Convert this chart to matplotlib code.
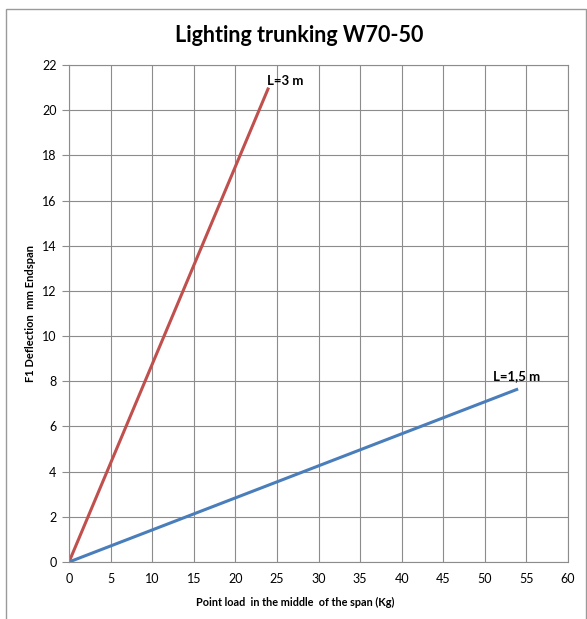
import matplotlib
matplotlib.use("Agg")
import matplotlib.pyplot as plt
from matplotlib.patches import Rectangle

plt.rcParams['font.family'] = ['Lato', 'DejaVu Sans']

# Data
load_3m = [0, 24]
defl_3m = [0, 21]
load_15m = [0, 54]
defl_15m = [0, 7.66]
label_3m = "L=3 m"
label_15m = "L=1,5 m"
x_ticks = list(range(0, 61, 5))
y_ticks = list(range(0, 23, 2))

W, H = 587, 619
fig = plt.figure(figsize=(W / 100, H / 100), dpi=100)
fig.patch.set_facecolor('white')

# outer chart frame
fig.patches.append(Rectangle((6 / W, -0.01), (586 - 6) / W, 1 - 9 / H + 0.01,
                             transform=fig.transFigure, fill=False,
                             edgecolor='#9a9a9a', linewidth=1.0))

left, right, top, bottom = 69, 568, 65, 562
ax = fig.add_axes([left / W, 1 - bottom / H, (right - left) / W, (bottom - top) / H])

ax.plot(load_3m, defl_3m, color='#c0504d', linewidth=2.2, solid_capstyle='butt')
ax.plot(load_15m, defl_15m, color='#4a7ebb', linewidth=2.2, solid_capstyle='butt')

ax.text(23.8, 21.3, label_3m, fontsize=9.5, fontweight='bold', ha='left', va='center')
ax.text(51.0, 8.25, label_15m, fontsize=9.5, fontweight='bold', ha='left', va='center')

ax.set_xlim(0, 60)
ax.set_ylim(0, 22)
ax.set_xticks(x_ticks)
ax.set_yticks(y_ticks)
ax.grid(True, color='#8c8c8c', linewidth=0.8)
ax.set_axisbelow(True)
for s in ax.spines.values():
    s.set_color('#8c8c8c')
    s.set_linewidth(0.8)
ax.tick_params(axis='both', labelsize=9, color='#8c8c8c', length=5, width=0.8)
ax.tick_params(axis='x', length=0, pad=8)
ax.tick_params(axis='y', pad=4)

fig.text(295 / W, 1 - 602 / H, "Point load  in the middle  of the span (Kg)", fontsize=7.8,
         fontweight='bold', ha='center', va='center')
fig.text(31 / W, 1 - 313 / H, "F1 Deflection  mm Endspan", fontsize=8, fontweight='bold',
         ha='center', va='center', rotation=90)

fig.text(299 / W, 1 - 36 / H, "Lighting trunking W70-50", fontsize=15.5, fontweight='bold',
         ha='center', va='center')

fig.savefig("out.png", dpi=100)
